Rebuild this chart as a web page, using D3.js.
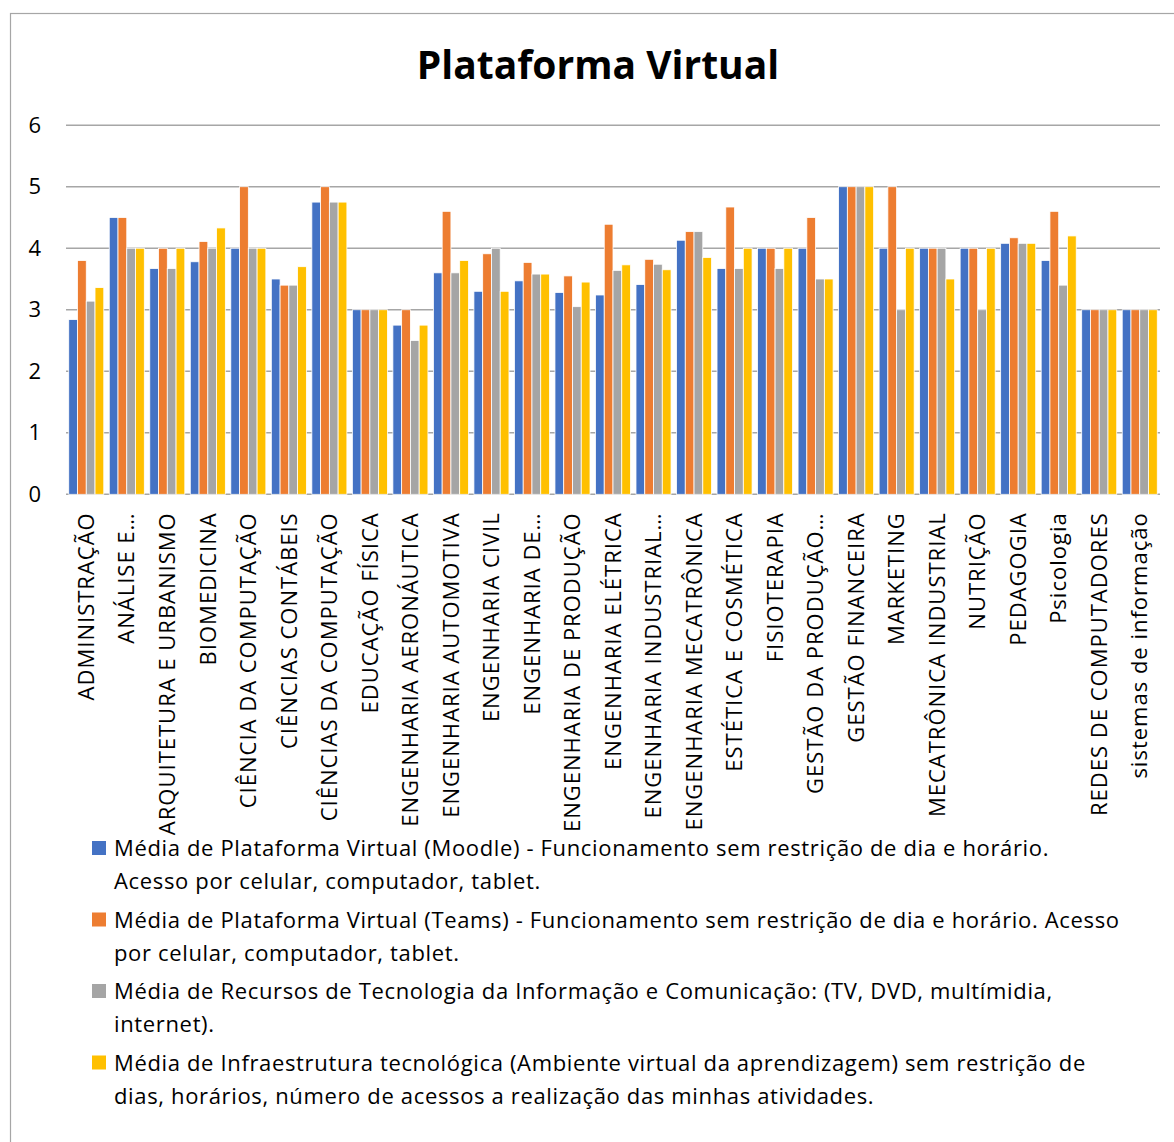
<!DOCTYPE html>
<html>
    <head>
        <meta charset="utf-8">
        <title>Plataforma Virtual</title>
        <script src="https://cdn.jsdelivr.net/npm/d3@7"></script>
    </head>

    <style>
        body {
            margin: 0;
            background: #fff;
        }
        text {
            font-family: "Open Sans", sans-serif;
            fill: #000;
        }
    </style>

    <body>
        <div class="viz-container"></div>
    </body>
    <script>

        //Course names as they appear on the axis (Excel cut some of them)
        var cursos = [
            "ADMINISTRAÇÃO", "ANÁLISE E…", "ARQUITETURA E URBANISMO", "BIOMEDICINA",
            "CIÊNCIA DA COMPUTAÇÃO", "CIÊNCIAS CONTÁBEIS", "CIÊNCIAS DA COMPUTAÇÃO",
            "EDUCAÇÃO FÍSICA", "ENGENHARIA AERONÁUTICA", "ENGENHARIA AUTOMOTIVA",
            "ENGENHARIA CIVIL", "ENGENHARIA DE…", "ENGENHARIA DE PRODUÇÃO",
            "ENGENHARIA ELÉTRICA", "ENGENHARIA INDUSTRIAL…", "ENGENHARIA MECATRÔNICA",
            "ESTÉTICA E COSMÉTICA", "FISIOTERAPIA", "GESTÃO DA PRODUÇÃO…",
            "GESTÃO FINANCEIRA", "MARKETING", "MECATRÔNICA INDUSTRIAL", "NUTRIÇÃO",
            "PEDAGOGIA", "Psicologia", "REDES DE COMPUTADORES", "sistemas de informação"
        ];

        //Legend text, one entry per series, split the way the chart wraps it
        var series = [
            ["Média de Plataforma Virtual (Moodle) - Funcionamento sem restrição de dia e horário.",
             "Acesso por celular, computador, tablet."],
            ["Média de Plataforma Virtual (Teams) - Funcionamento sem restrição de dia e horário. Acesso",
             "por celular, computador, tablet."],
            ["Média de Recursos de Tecnologia da Informação e Comunicação: (TV, DVD, multímidia,",
             "internet)."],
            ["Média de Infraestrutura tecnológica (Ambiente virtual da aprendizagem) sem restrição de",
             "dias, horários, número de acessos a realização das minhas atividades."]
        ];
        var colors = ["#4472C4", "#ED7D31", "#A5A5A5", "#FFC000"];

        //Values, one array per series
        var moodle = [2.84, 4.5, 3.67, 3.78, 4, 3.5, 4.75, 3, 2.75, 3.6, 3.3, 3.47, 3.28,
                      3.24, 3.41, 4.13, 3.67, 4, 4, 5, 4, 4, 4, 4.08, 3.8, 3, 3];
        var teams = [3.8, 4.5, 4, 4.11, 5, 3.4, 5, 3, 3, 4.6, 3.91, 3.77, 3.55,
                     4.39, 3.82, 4.27, 4.67, 4, 4.5, 5, 5, 4, 4, 4.17, 4.6, 3, 3];
        var tic = [3.14, 4, 3.67, 4, 4, 3.4, 4.75, 3, 2.5, 3.6, 4, 3.58, 3.05,
                   3.64, 3.74, 4.27, 3.67, 3.67, 3.5, 5, 3, 4, 3, 4.08, 3.4, 3, 3];
        var infra = [3.36, 4, 4, 4.33, 4, 3.7, 4.75, 3, 2.75, 3.8, 3.3, 3.58, 3.45,
                     3.73, 3.65, 3.85, 4, 4, 3.5, 5, 4, 3.5, 4, 4.08, 4.2, 3, 3];

        var yTicks = [0, 1, 2, 3, 4, 5, 6];

        var valores = [moodle, teams, tic, infra];

        //Basic sizing
        var width = 1174;
        var height = 1142;
        var plotLeft = 66, plotRight = 1160, plotTop = 125.2, plotBottom = 494.3;

        var svg = d3.select(".viz-container")
                    .append("svg")
                    .attr("width", width)
                    .attr("height", height);

        //chart frame (runs off the right / bottom edge like the screenshot)
        svg.append("rect")
            .attr("x", 10.5).attr("y", 13.5)
            .attr("width", width + 20).attr("height", height + 20)
            .attr("fill", "#fff")
            .attr("stroke", "#a6a6a6")
            .attr("stroke-width", 1.2);

        //Title
        svg.append("text")
            .attr("x", 598)
            .attr("y", 79)
            .attr("text-anchor", "middle")
            .style("font-weight", "bold")
            .style("font-size", "39px")
            .text("Plataforma Virtual");

        //Scales
        var x0 = d3.scaleBand()
            .domain(cursos)
            .range([plotLeft, plotRight])
            .paddingInner(0.135)
            .paddingOuter(0.0675);

        var x1 = d3.scaleBand()
            .domain(d3.range(series.length))
            .range([0, x0.bandwidth()]);

        var y = d3.scaleLinear()
            .domain([0, 6])
            .range([plotBottom, plotTop]);

        //Gridlines
        svg.append("g")
            .selectAll("line")
            .data(yTicks)
            .enter()
            .append("line")
            .attr("x1", plotLeft)
            .attr("x2", plotRight)
            .attr("y1", function(d) { return y(d); })
            .attr("y2", function(d) { return y(d); })
            .attr("stroke", "#a6a6a6")
            .attr("stroke-width", 1.5);

        //Y axis labels
        var yAxis = svg.append("g")
            .attr("transform", "translate(41,0)")
            .call(d3.axisLeft(y).tickValues(yTicks).tickFormat(d3.format("d")).tickSize(0).tickPadding(0));
        yAxis.select(".domain").remove();
        yAxis.selectAll("text")
            .style("font-family", "'Open Sans', sans-serif")
            .style("font-size", "22px")
            .attr("fill", "#000");

        //Bars
        var grupos = svg.append("g")
            .selectAll("g")
            .data(cursos)
            .enter()
            .append("g")
            .attr("transform", function(d) { return "translate(" + x0(d) + ",0)"; });

        grupos.selectAll("rect")
            .data(function(d, i) {
                return valores.map(function(serie, s) { return { s: s, v: serie[i] }; });
            })
            .enter()
            .append("rect")
            .attr("x", function(d) { return x1(d.s); })
            .attr("width", x1.bandwidth())
            .attr("y", function(d) { return y(d.v); })
            .attr("height", function(d) { return y(0) - y(d.v); })
            .attr("fill", function(d) { return colors[d.s]; })
            .attr("stroke", "#fff")
            .attr("stroke-width", 0.8);

        //X axis labels, rotated, hanging from the axis
        var xAxis = svg.append("g")
            .attr("transform", "translate(0," + (plotBottom + 18) + ")")
            .call(d3.axisBottom(x0).tickSize(0).tickPadding(0));
        xAxis.select(".domain").remove();
        xAxis.selectAll("text")
            .attr("transform", "rotate(-90)")
            .attr("x", 0)
            .attr("y", 0)
            .attr("dy", "0.35em")
            .attr("text-anchor", "end")
            .style("font-family", "'Open Sans', sans-serif")
            .style("font-size", "22px")
            .style("letter-spacing", "1px")
            .attr("fill", "#000");

        //Legend
        var legendX = 92, legendTop = 841, itemGap = 71.5, lineGap = 33;
        var legend = svg.append("g");

        series.forEach(function(linhas, s) {
            var top = legendTop + s * itemGap;
            legend.append("rect")
                .attr("x", legendX)
                .attr("y", top)
                .attr("width", 14)
                .attr("height", 14)
                .attr("fill", colors[s]);

            legend.append("text")
                .attr("x", legendX + 22)
                .attr("y", top + 15)
                .style("font-size", "22px")
                .style("letter-spacing", "0.65px")
                .selectAll("tspan")
                .data(linhas)
                .enter()
                .append("tspan")
                .attr("x", legendX + 22)
                .attr("dy", function(d, i) { return i === 0 ? 0 : lineGap; })
                .text(function(d) { return d; });
        });

    </script>
</html>
